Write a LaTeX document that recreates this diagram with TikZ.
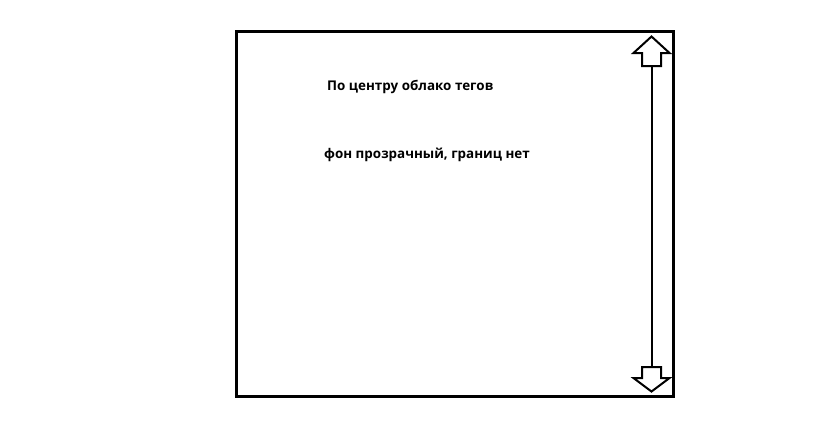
\documentclass[tikz,border=0pt]{standalone}
\usepackage{fontspec}
\setmainfont{Open Sans}
\begin{document}
\begin{tikzpicture}[x=1pt,y=-1pt,
  frame/.style={draw=black,line width=3pt},
  arr/.style={draw=black,line width=2pt,line join=miter},
  lbl/.style={font=\bfseries\fontsize{13.4}{15}\selectfont,inner sep=0pt,anchor=west}]
\useasboundingbox[fill=white] (0,0) rectangle (829,437);
\draw[frame] (236,31.5) rectangle (673.7,396.5);
% top arrow
\draw[arr] (651.5,36.5) -- (669.5,53) -- (661,53) -- (661,66) -- (642,66) -- (642,53) -- (633.5,53) -- cycle;
% bottom arrow
\draw[arr] (651.5,391.5) -- (669.5,378) -- (661,378) -- (661,367) -- (642,367) -- (642,378) -- (633.5,378) -- cycle;
\coordinate (t) at (651.5,66);
\coordinate (b) at (651.5,367);
\draw[arr] (t) -- (b);
\node[lbl] (l1) at (327,87) {По центру облако тегов};
\node[lbl] (l2) at (324,155) {фон прозрачный, границ нет};
\end{tikzpicture}
\end{document}
